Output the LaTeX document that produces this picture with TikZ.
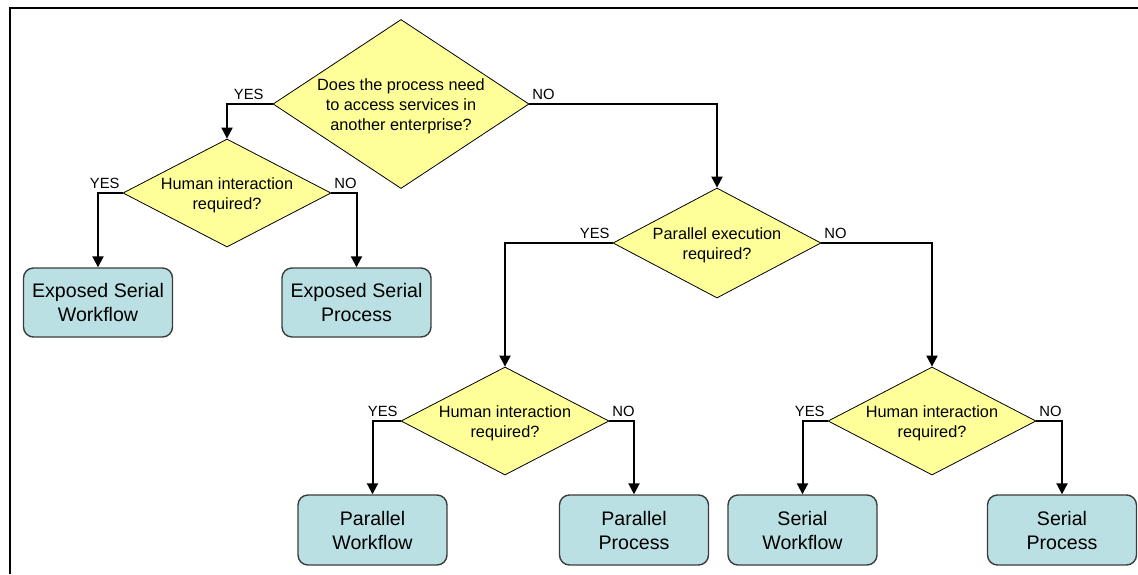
\documentclass[tikz,border=0pt]{standalone}
\usepackage{fontspec}
\setmainfont{Liberation Sans}
\usetikzlibrary{shapes.geometric,arrows.meta}
\definecolor{dfill}{RGB}{255,255,153}
\definecolor{bfill}{RGB}{187,224,227}
\definecolor{bdraw}{RGB}{60,60,60}
\begin{document}
\begin{tikzpicture}[x=1pt,y=-1pt,
  dia/.style={diamond, draw=black, line width=0.8pt, fill=dfill, inner sep=0pt},
  dtext/.style={font=\fontsize{16.3}{20}\selectfont, align=center, inner sep=0pt, yshift=-2pt},
  box/.style={rectangle, rounded corners=10pt, draw=bdraw, line width=1.4pt, fill=bfill,
    minimum width=149pt, minimum height=69pt, align=center,
    font=\fontsize{19.6}{24}\selectfont, inner sep=0pt},
  arr/.style={line width=2pt, -{Triangle[length=11pt,width=11pt]}},
  lbl/.style={font=\fontsize{14.8}{16}\selectfont, inner sep=2pt, yshift=1.5pt},
  frame/.style={line width=2pt}]
\useasboundingbox (0,0) rectangle (1138,574);
\coordinate (fa) at (10,574);
\coordinate (fb) at (10,8);
\coordinate (fc) at (1138,8);
\draw[frame] (fa) -- (fb) -- (fc);

\node[dia, minimum width=256pt, minimum height=169pt,
  label={[dtext]center:{Does the process need\\to access services in\\another enterprise?}}] (d1) at (401,104) {};
\node[dia, minimum width=208pt, minimum height=108pt,
  label={[dtext]center:{Human interaction\\required?}}] (d2) at (227,193) {};
\node[dia, minimum width=208pt, minimum height=110pt,
  label={[dtext]center:{Parallel execution\\required?}}] (d3) at (717,243) {};
\node[dia, minimum width=208pt, minimum height=108pt,
  label={[dtext]center:{Human interaction\\required?}}] (d4) at (505,421) {};
\node[dia, minimum width=208pt, minimum height=108pt,
  label={[dtext]center:{Human interaction\\required?}}] (d5) at (932,421) {};

\node[box] (b1) at (98,302.5) {Exposed Serial\\Workflow};
\node[box] (b2) at (356.5,302.5) {Exposed Serial\\Process};
\node[box, minimum height=70pt] (b3) at (372.5,530) {Parallel\\Workflow};
\node[box, minimum height=70pt] (b4) at (634,530) {Parallel\\Process};
\node[box, minimum height=70pt] (b5) at (802.5,530) {Serial\\Workflow};
\node[box, minimum height=70pt] (b6) at (1062,530) {Serial\\Process};

\draw[arr] (d1.west) node[lbl, anchor=south east, xshift=-6pt] {YES} -| (d2.north);
\draw[arr] (d1.east) node[lbl, anchor=south west] {NO} -| (d3.north);
\draw[arr] (d2.west) node[lbl, anchor=south east] {YES} -| (b1.north);
\draw[arr] (d2.east) node[lbl, anchor=south west] {NO} -| (b2.north);
\draw[arr] (d3.west) node[lbl, anchor=south east] {YES} -| (d4.north);
\draw[arr] (d3.east) node[lbl, anchor=south west] {NO} -| (d5.north);
\draw[arr] (d4.west) node[lbl, anchor=south east] {YES} -| (b3.north);
\draw[arr] (d4.east) node[lbl, anchor=south west] {NO} -| (b4.north);
\draw[arr] (d5.west) node[lbl, anchor=south east] {YES} -| (b5.north);
\draw[arr] (d5.east) node[lbl, anchor=south west] {NO} -| (b6.north);
\end{tikzpicture}
\end{document}
